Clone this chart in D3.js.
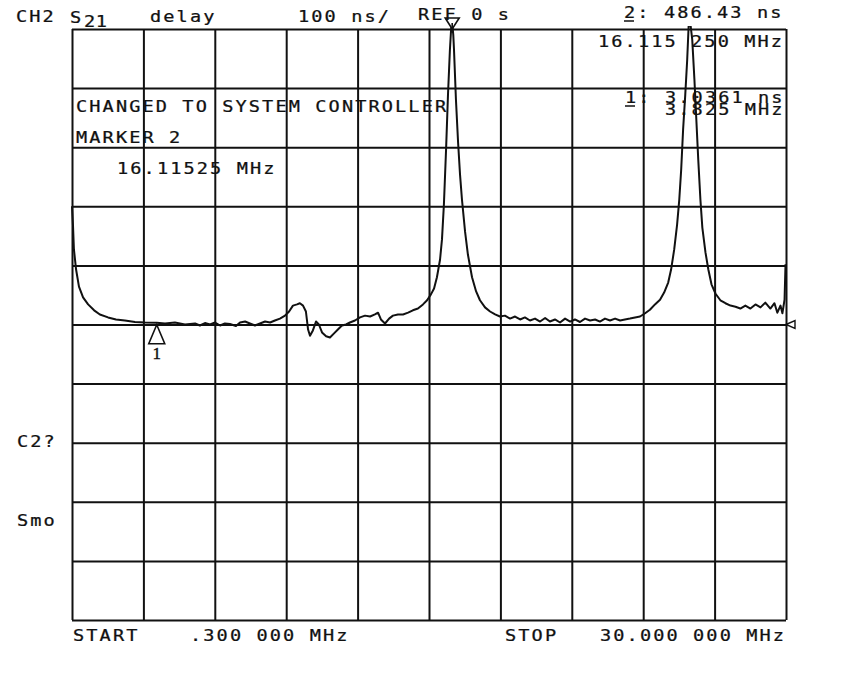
<!DOCTYPE html>
<html>
<head>
<meta charset="utf-8">
<script src="https://cdn.jsdelivr.net/npm/d3@7"></script>
<style>
html,body{margin:0;padding:0;background:#fff;}
svg{display:block;}
</style>
</head>
<body>
<svg id="chart" width="850" height="674"></svg>
<script>
// ---- data ----
const freqMHz = [
  0.30,0.34,0.38,0.47,0.59,0.76,0.97,1.22,1.46,1.80,2.13,2.50,2.92,3.34,3.825,4.17,4.58,5.00,5.42,5.62,
  5.83,6.04,6.25,6.46,6.66,6.87,7.12,7.29,7.50,7.70,7.91,8.12,8.33,8.54,8.74,8.95,9.16,9.33,9.49,9.66,
  9.78,9.91,10.03,10.12,10.20,10.32,10.45,10.57,10.70,10.87,11.03,11.20,11.36,11.53,11.70,11.86,12.07,12.28,12.49,12.70,
  12.90,13.03,13.15,13.32,13.49,13.65,13.86,14.07,14.28,14.48,14.69,14.90,15.07,15.23,15.36,15.48,15.61,15.69,15.77,15.86,
  15.94,16.02,16.07,16.115,16.16,16.19,16.27,16.36,16.44,16.52,16.65,16.77,16.94,17.11,17.27,17.48,17.69,17.90,18.10,18.31,
  18.52,18.73,18.94,19.14,19.35,19.56,19.77,19.98,20.18,20.39,20.60,20.81,21.02,21.22,21.43,21.64,21.85,22.06,22.26,22.47,
  22.68,22.89,23.10,23.30,23.51,23.72,23.93,24.14,24.34,24.55,24.76,24.93,25.10,25.22,25.35,25.47,25.56,25.64,25.72,25.81,
  25.89,25.95,26.02,26.10,26.19,26.27,26.35,26.44,26.52,26.65,26.77,26.90,27.07,27.27,27.48,27.69,27.90,28.10,28.31,28.52,
  28.73,28.94,29.14,29.35,29.52,29.64,29.77,29.85,29.94,29.98
];
const delayNs = [
  200,169,127,93,64,46,34,24,17,12,8.5,6.8,4.2,3.4,3.04,1.7,3.4,0,1.7,-1.7,
  2.5,0,3.4,-1.7,1.7,0.8,-2.5,3.4,5,1.7,-1.7,1.7,5,3.4,6.8,10,15,22,32,34,
  36,32,22,-8.5,-19,-10,5,0,-13.5,-20,-22,-15,-8.5,-1.7,0,3.4,6.8,12,15,13.5,
  17,20,8.5,1.7,10,15,17,17,20,24,27,34,41,51,61,80,110,144,203,296,
  389,465,500,510,490,465,381,308,254,212,157,118,80,56,41,29,22,17,13.5,15,
  10,13.5,8.5,12,6.8,10,5,11,5,8.5,3.4,10,5,8.5,4.2,10,6.8,8.5,5,10,
  6.8,10,6.8,8.5,10,12,13.5,19,25,34,42,54,71,93,127,169,211,262,330,389,
  448,505,510,482,415,347,279,211,164,122,93,68,52,41,36,32,30,27,32,27,
  34,29,37,27,36,20,32,19,42,102
];
const xDomain = [0.3, 30];          // MHz, start / stop
const yDomain = [-500, 500];        // ns, 100 ns/div, ref 0 s
const divisions = 10;
const markers = [
  {id: "1", freq: 3.825, value: 3.0361},
  {id: "2", freq: 16.11525, value: 486.43}
];
const headerTexts = [
  {t: "CH2", x: 16, y: 22},
  {t: "delay", x: 150, y: 22},
  {t: "100 ns/", x: 298, y: 22},
  {t: "REF 0 s", x: 418, y: 20},
  {t: "2: 486.43 ns", x: 624, y: 18},
  {t: "16.115 250 MHz", x: 598, y: 47},
  {t: "CHANGED TO SYSTEM CONTROLLER", x: 76, y: 112},
  {t: "MARKER 2", x: 76, y: 143},
  {t: "16.11525 MHz", x: 117, y: 174},
  {t: "1:", x: 625, y: 103},
  {t: "3.0361 ns", x: 665, y: 103},
  {t: "3.825 MHz", x: 665, y: 115},
  {t: "C2?", x: 17, y: 447},
  {t: "Smo", x: 17, y: 526},
  {t: "START", x: 73, y: 641},
  {t: ".300 000 MHz", x: 190, y: 641},
  {t: "STOP", x: 505, y: 641},
  {t: "30.000 000 MHz", x: 600, y: 641}
];

// ---- layout ----
const L = 72, R = 786, T = 29, B = 620;
const ink = "#111";
const svg = d3.select("#chart");
svg.append("rect").attr("width", 850).attr("height", 674).attr("fill", "#fff");

const x = d3.scaleLinear().domain(xDomain).range([L, R]);
const y = d3.scaleLinear().domain(yDomain).range([B, T]);

// grid
const xt = d3.range(divisions + 1).map(i => xDomain[0] + i * (xDomain[1] - xDomain[0]) / divisions);
const yt = d3.range(divisions + 1).map(i => yDomain[0] + i * (yDomain[1] - yDomain[0]) / divisions);
const gx = svg.append("g").attr("transform", `translate(0,${B})`)
  .call(d3.axisBottom(x).tickValues(xt).tickSize(-(B - T)).tickFormat(""));
const gy = svg.append("g").attr("transform", `translate(${L},0)`)
  .call(d3.axisLeft(y).tickValues(yt).tickSize(-(R - L)).tickFormat(""));
[gx, gy].forEach(g => {
  g.select(".domain").remove();
  g.selectAll("line").attr("stroke", ink).attr("stroke-width", 2);
});

// trace
svg.append("clipPath").attr("id", "clip").append("rect")
  .attr("x", L - 1).attr("y", T - 3).attr("width", R - L + 2).attr("height", B - T + 3);
const pts = freqMHz.map((f, i) => [f, delayNs[i]]);
svg.append("path").datum(pts)
  .attr("clip-path", "url(#clip)")
  .attr("fill", "none").attr("stroke", ink).attr("stroke-width", 2)
  .attr("stroke-linejoin", "round")
  .attr("d", d3.line().x(d => x(d[0])).y(d => y(d[1])));

// helper: interpolate trace
function traceAt(f) {
  const i = d3.bisector(d => d[0]).left(pts, f);
  if (i <= 0) return pts[0][1];
  if (i >= pts.length) return pts[pts.length - 1][1];
  const a = pts[i - 1], b = pts[i];
  return a[1] + (b[1] - a[1]) * (f - a[0]) / (b[0] - a[0]);
}

// marker 1 (triangle pointing up, below trace)
{
  const m = markers[0];
  const mx = x(m.freq), my = y(traceAt(m.freq)) + 2;
  svg.append("path")
    .attr("d", `M${mx},${my} L${mx - 8},${my + 19} L${mx + 8},${my + 19} Z`)
    .attr("fill", "none").attr("stroke", ink).attr("stroke-width", 1.6);
  svg.append("text").attr("x", mx).attr("y", my + 34)
    .attr("text-anchor", "middle")
    .attr("font-family", "Liberation Serif, serif").attr("font-size", 17)
    .attr("stroke", ink).attr("stroke-width", 0.4)
    .attr("fill", ink).text(m.id);
}
// marker 2 (active, inverted triangle above trace, clipped at top)
{
  const m = markers[1];
  const mx = x(m.freq), my = Math.max(y(Math.min(traceAt(m.freq), yDomain[1])), T);
  svg.append("path")
    .attr("d", `M${mx},${my} L${mx - 7},${my - 11} L${mx + 7},${my - 11} Z`)
    .attr("fill", "#fff").attr("stroke", ink).attr("stroke-width", 1.6);
  svg.append("line").attr("x1", mx).attr("x2", mx).attr("y1", my - 6).attr("y2", my + 4)
    .attr("stroke", ink).attr("stroke-width", 1.6);
}
// reference position marker at the right edge
{
  const ry = y(0), rx = R;
  svg.append("path")
    .attr("d", `M${rx},${ry} L${rx + 9},${ry - 4} L${rx + 9},${ry + 4} Z`)
    .attr("fill", "none").attr("stroke", ink).attr("stroke-width", 1.4);
}

// texts (HP plotter-like monospaced lettering, pitch ~13.3 px)
const FS = 15.5, SX = 1.2, PITCH = 13.3;
const adv = 0.602 * FS * SX;
const ls = (PITCH - adv) / SX;
function drawText(t, tx, ty) {
  svg.append("text")
    .attr("transform", `translate(${tx},${ty}) scale(${SX},1)`)
    .attr("font-family", "DejaVu Sans Mono, monospace")
    .attr("font-size", FS)
    .attr("letter-spacing", ls)
    .attr("fill", ink)
    .attr("stroke", ink).attr("stroke-width", 0.25)
    .text(t);
}
headerTexts.forEach(d => drawText(d.t, d.x, d.y));
// S21 with subscript
drawText("S", 70, 23);
svg.append("text")
  .attr("transform", `translate(84,27) scale(${SX},1)`)
  .attr("font-family", "DejaVu Sans Mono, monospace")
  .attr("font-size", FS).attr("letter-spacing", 0.5)
  .attr("stroke", ink).attr("stroke-width", 0.25)
  .attr("fill", ink).text("21");
// underlines for marker numbers in readouts
svg.append("line").attr("x1", 624).attr("x2", 634).attr("y1", 21).attr("y2", 21)
  .attr("stroke", ink).attr("stroke-width", 1.5);
svg.append("line").attr("x1", 625).attr("x2", 635).attr("y1", 106).attr("y2", 106)
  .attr("stroke", ink).attr("stroke-width", 1.5);
</script>
</body>
</html>
